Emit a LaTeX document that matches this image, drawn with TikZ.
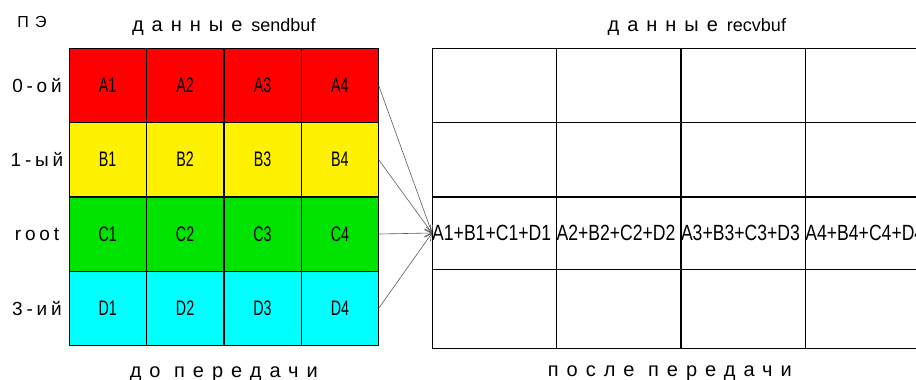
\documentclass[tikz,border=0pt]{standalone}
\usepackage{fontspec}
\setmainfont{Liberation Sans}
\newfontfamily\cellfont[FakeStretch=0.68]{Liberation Sans}
\newfontfamily\resultfont[FakeStretch=0.8]{Liberation Sans}
\newfontfamily\spacedfont[LetterSpace=40]{Liberation Sans}
\newfontfamily\rowfont[LetterSpace=20]{Liberation Sans}
\newcommand\cyrtitle[1]{{\spacedfont\fontsize{20}{20}\selectfont #1}}
\usetikzlibrary{arrows.meta, positioning}
\definecolor{grassGreen}{RGB}{0,226,0}
\definecolor{skyCyan}{RGB}{0,255,255}
\tikzset{
  cell/.style = {
    draw,
    inner sep=0pt,
    minimum width=77pt,
    minimum height=74pt,
    font=\cellfont\fontsize{21}{21}\selectfont,
  },
  rowA/.style = {cell, fill=red},
  rowB/.style = {cell, fill=yellow},
  rowC/.style = {cell, fill=grassGreen},
  rowD/.style = {cell, fill=skyCyan},
  recv/.style = {
    draw,
    inner sep=0pt,
    minimum width=124pt,
    minimum height=74pt,
  },
  result/.style = {
    recv,
    minimum height=72pt,
    text width=124pt,
    align=left,
    font=\resultfont\fontsize{22}{22}\selectfont,
  },
  peLabel/.style = {
    inner sep=0pt,
    font=\rowfont\fontsize{19}{19}\selectfont,
  },
  bufTitle/.style = {
    inner sep=0pt,
    font=\fontsize{18}{18}\selectfont,
  },
  gather/.style = {
    -{Straight Barb[length=7pt, width=7pt]},
    draw=black!65,
    line width=.6pt,
  },
}

\begin{document}
\begin{tikzpicture}[node distance=0pt]
\useasboundingbox (0,0) rectangle (916pt,-380pt);

% sendbuf of every process, before the call
\node (A1) [rowA, anchor=north west] at (69pt,-48pt) {A1};
\node (A2) [rowA, right=of A1] {A2};
\node (A3) [rowA, right=of A2] {A3};
\node (A4) [rowA, right=of A3] {A4};
\node (B1) [rowB, below=of A1] {B1};
\node (B2) [rowB, right=of B1] {B2};
\node (B3) [rowB, right=of B2] {B3};
\node (B4) [rowB, right=of B3] {B4};
\node (C1) [rowC, below=of B1] {C1};
\node (C2) [rowC, right=of C1] {C2};
\node (C3) [rowC, right=of C2] {C3};
\node (C4) [rowC, right=of C3] {C4};
\node (D1) [rowD, below=of C1] {D1};
\node (D2) [rowD, right=of D1] {D2};
\node (D3) [rowD, right=of D2] {D3};
\node (D4) [rowD, right=of D3] {D4};

% recvbuf, filled only on root
\node (Recv11) [recv, anchor=north west] at (432pt,-48pt) {};
\node (Recv12) [recv, right=of Recv11] {};
\node (Recv13) [recv, right=of Recv12] {};
\node (Recv14) [recv, right=of Recv13] {};
\node (Recv21) [recv, below=of Recv11] {};
\node (Recv22) [recv, right=of Recv21] {};
\node (Recv23) [recv, right=of Recv22] {};
\node (Recv24) [recv, right=of Recv23] {};
\node (Recv31) [result, below=of Recv21] {A1+B1+C1+D1};
\node (Recv32) [result, right=of Recv31] {A2+B2+C2+D2};
\node (Recv33) [result, right=of Recv32] {A3+B3+C3+D3};
\node (Recv34) [result, right=of Recv33] {A4+B4+C4+D4};
\node (Recv41) [recv, minimum height=79pt, below=of Recv31] {};
\node (Recv42) [recv, minimum height=79pt, right=of Recv41] {};
\node (Recv43) [recv, minimum height=79pt, right=of Recv42] {};
\node (Recv44) [recv, minimum height=79pt, right=of Recv43] {};

% process names
\coordinate (PeAxis) at (37pt,0);
\node (PE) [peLabel, font=\spacedfont\fontsize{16}{16}\selectfont] at (32pt,-22pt) {ПЭ};
\node (Pe0) [peLabel] at (PeAxis |- A1) {0-ой};
\node (Pe1) [peLabel] at (PeAxis |- B1) {1-ый};
\node (PeRoot) [peLabel] at (PeAxis |- C1) {root};
\node (Pe3) [peLabel] at (PeAxis |- D1) {3-ий};

\node (SendTitle) [bufTitle, above=12pt of A2.north east] {\cyrtitle{данные}\enspace sendbuf};
\node (RecvTitle) [bufTitle, above=12pt of Recv12.north east, xshift=16pt] {\cyrtitle{данные}\enspace recvbuf};
\node (Before) [bufTitle, below=21pt of D2.south east] {\cyrtitle{до передачи}};
\node (After) [bufTitle, below=17pt of Recv42.south east, xshift=-11pt] {\cyrtitle{после передачи}};

% reduction onto root
\draw[gather] (A4.east) -- (Recv31.west);
\draw[gather] (B4.east) -- (Recv31.west);
\draw[gather] (C4.east) -- (Recv31.west);
\draw[gather] (D4.east) -- (Recv31.west);

\end{tikzpicture}
\end{document}
